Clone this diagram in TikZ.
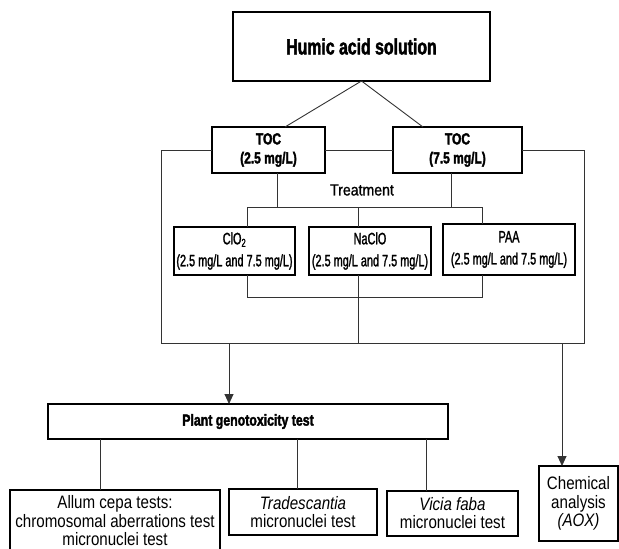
\documentclass[tikz,border=0pt]{standalone}
\usepackage{fontspec}
\setmainfont{Liberation Sans}
\newfontfamily\blk[FakeStretch=0.72,FakeBold=2]{Liberation Sans}
\newfontfamily\tocf[FakeStretch=0.75,FakeBold=2]{Liberation Sans}
\newfontfamily\plf[FakeStretch=0.77,FakeBold=2]{Liberation Sans}
\newfontfamily\med[FakeStretch=0.66,FakeBold=1.5]{Liberation Sans}
\newfontfamily\trf[FakeStretch=0.88,FakeBold=1]{Liberation Sans}
\newfontfamily\nar[FakeStretch=0.84]{Liberation Sans}
\usetikzlibrary{arrows.meta}
\tikzset{
  box/.style={draw=black, line width=1.1pt, inner sep=0pt, outer sep=0pt, align=center, fill=white},
  conn/.style={draw=black!80, line width=0.9pt},
  arr/.style={conn, -{Triangle[length=10pt,width=9pt]}}
}
\begin{document}
\begin{tikzpicture}[x=1pt,y=-1pt]
\useasboundingbox (0,0) rectangle (619,549);
% nodes
\node[box, minimum width=257pt, minimum height=69pt, font={\blk\bfseries\fontsize{22}{26}\selectfont}] (humic) at (361.5,46.5) {Humic acid solution};
\node[box, minimum width=113pt, minimum height=46pt, font={\tocf\bfseries\fontsize{16}{19}\selectfont}] (toc1) at (268.5,150) {TOC\\(2.5 mg/L)};
\node[box, minimum width=129pt, minimum height=46pt, font={\tocf\bfseries\fontsize{16}{19}\selectfont}] (toc2) at (457.5,150) {TOC\\(7.5 mg/L)};
\node[font={\trf\fontsize{16}{19}\selectfont}, inner sep=0pt] (treat) at (362,190) {Treatment};
\node[box, minimum width=121pt, minimum height=48pt, font={\med\fontsize{16.5}{22}\selectfont}] (clo) at (234.5,251) {ClO\textsubscript{2}\\(2.5 mg/L and 7.5 mg/L)};
\node[box, minimum width=122pt, minimum height=48pt, font={\med\fontsize{16.5}{22}\selectfont}] (naclo) at (370,251) {NaClO\\(2.5 mg/L and 7.5 mg/L)};
\node[box, minimum width=132pt, minimum height=51pt, font={\med\fontsize{16.5}{22}\selectfont}] (paa) at (509,249.5) {PAA\\(2.5 mg/L and 7.5 mg/L)};
\node[box, minimum width=400pt, minimum height=35pt, font={\plf\bfseries\fontsize{16}{19}\selectfont}] (plant) at (248,421.5) {Plant genotoxicity test};
\node[box, minimum width=210pt, minimum height=62pt, font={\nar\fontsize{18}{18.5}\selectfont}] (allum) at (115,521) {Allum cepa tests:\\chromosomal aberrations test\\micronuclei test};
\node[box, minimum width=148pt, minimum height=46pt, font={\nar\fontsize{18}{18}\selectfont}] (trad) at (303,512) {\itshape Tradescantia\\micronuclei test};
\node[box, minimum width=131pt, minimum height=45pt, font={\nar\fontsize{18}{18}\selectfont}] (vicia) at (452.5,513.5) {\itshape Vicia faba\\micronuclei test};
\node[box, minimum width=79pt, minimum height=75pt, font={\nar\fontsize{18}{18.5}\selectfont}] (chem) at (578.5,503.5) {Chemical\\analysis\\\itshape (AOX)};
% coordinates
\coordinate (bl) at (161,343);
\coordinate (br) at (584,343);
\coordinate (hl) at (247,207);
\coordinate (hr) at (482,207);
\coordinate (hm) at (358,207);
\coordinate (bb1) at (247,297);
\coordinate (bb2) at (482,297);
\coordinate (ba) at (229,343);
\coordinate (bc) at (562,343);
\coordinate (c1) at (100,0);
\coordinate (c2) at (297,0);
\coordinate (c3) at (426,0);
% connectors
\draw[conn] (humic.south) -- ([xshift=16.5pt]toc1.north);
\draw[conn] (humic.south) -- ([xshift=-34.5pt]toc2.north);
\draw[conn] (toc1.east) -- (toc2.west);
\draw[conn] (toc1.west) -| (bl) -- (br) |- (toc2.east);
\draw[conn] ([xshift=8.5pt]toc1.south) -- ([xshift=8.5pt]toc1.south |- hl);
\draw[conn] ([xshift=-6.5pt]toc2.south) -- ([xshift=-6.5pt]toc2.south |- hr);
\draw[conn] (clo.north -| hl) -- (hl) -- (hr) -- (paa.north -| hr);
\draw[conn] (hm) -- (naclo.north -| hm);
\draw[conn] (clo.south -| bb1) -- (bb1) -- (bb2) -- (paa.south -| bb2);
\draw[conn] (naclo.south -| hm) -- (hm |- bl);
\draw[arr] (ba) -- (plant.north -| ba);
\draw[arr] (bc) -- (chem.north -| bc);
\draw[conn] (plant.south -| c1) -- (allum.north -| c1);
\draw[conn] (plant.south -| c2) -- (trad.north -| c2);
\draw[conn] (plant.south -| c3) -- (vicia.north -| c3);
\end{tikzpicture}
\end{document}
